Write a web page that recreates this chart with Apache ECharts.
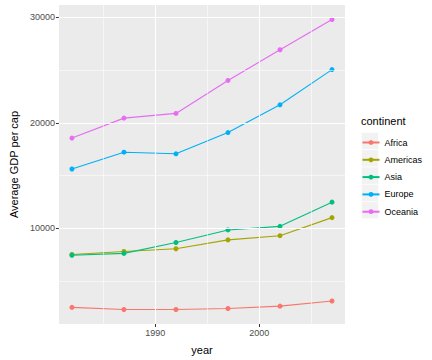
<!DOCTYPE html>
<html><head><meta charset="utf-8">
<script src="https://cdn.jsdelivr.net/npm/echarts@6/dist/echarts.min.js"></script>
<style>html,body{margin:0;padding:0;background:#fff}#c{width:432px;height:360px}</style>
</head><body><div id="c"></div>
<script>
const years = [1982, 1987, 1992, 1997, 2002, 2007];
const continents = ['Africa', 'Americas', 'Asia', 'Europe', 'Oceania'];
const africa   = [2481.6, 2282.7, 2281.8, 2378.8, 2599.4, 3089.0];
const americas = [7506.7, 7793.4, 8044.9, 8889.3, 9287.7, 11003.0];
const asia     = [7434.1, 7608.2, 8639.7, 9834.1, 10174.1, 12473.0];
const europe   = [15617.9, 17214.3, 17061.6, 19076.8, 21711.7, 25054.5];
const oceania  = [18554.7, 20448.0, 20894.0, 24024.2, 26938.8, 29810.2];
const xMajor = [1990, 2000];
const xMinor = [1985, 1995, 2005];
const yMajor = [10000, 20000, 30000];
const yMinor = [5000, 15000, 25000];
const colors = ['#F8766D', '#A3A500', '#00BF7D', '#00B0F6', '#E76BF3'];
const values = [africa, americas, asia, europe, oceania];

const font = 'Liberation Sans, Arial, sans-serif';
const chart = echarts.init(document.getElementById('c'), null, {renderer: 'svg'});

const grid = {left: 48, top: 5, width: 297, height: 323};

const gridLines = [];
xMinor.forEach(v => gridLines.push({xAxis: v, lineStyle: {color: '#fff', width: 0.55, type: 'solid'}}));
yMinor.forEach(v => gridLines.push({yAxis: v, lineStyle: {color: '#fff', width: 0.55, type: 'solid'}}));
xMajor.forEach(v => gridLines.push({xAxis: v, lineStyle: {color: '#fff', width: 1.1, type: 'solid'}}));
yMajor.forEach(v => gridLines.push({yAxis: v, lineStyle: {color: '#fff', width: 1.1, type: 'solid'}}));

const series = [{
  type: 'line', name: '_grid', data: [], silent: true, z: 1,
  markLine: {silent: true, symbol: ['none', 'none'], label: {show: false}, animation: false, data: gridLines}
}];
continents.forEach((c, i) => {
  series.push({
    type: 'line', name: c, z: 3,
    data: years.map((y, j) => [y, values[i][j]]),
    symbol: 'circle', symbolSize: 5, showSymbol: true,
    lineStyle: {color: colors[i], width: 1.1},
    itemStyle: {color: colors[i]},
    emphasis: {disabled: true}, animation: false
  });
});

const keyTop = 132.5, keyStep = 17.3, keySize = 17;
const keyRects = continents.map((c, i) => ({
  type: 'rect', silent: true, z: 0,
  shape: {x: 361.5, y: keyTop + i * keyStep, width: keySize, height: keySize},
  style: {fill: '#F2F2F2', stroke: '#fff', lineWidth: 0.5}
}));

const legends = continents.map((c, i) => ({
  data: [c], orient: 'vertical', left: 361.5, top: keyTop + i * keyStep + keySize / 2 - 3,
  itemWidth: 17, itemHeight: 6, itemGap: 0, padding: 0,
  textStyle: {fontFamily: font, fontSize: 9, color: '#000'},
  selectedMode: false
}));

chart.setOption({
  animation: false,
  color: colors,
  grid: Object.assign({show: true, backgroundColor: '#EBEBEB', borderWidth: 0}, grid),
  xAxis: {
    type: 'value', min: 1980.75, max: 2008.25,
    name: 'year', nameLocation: 'middle', nameGap: 20,
    nameTextStyle: {fontFamily: font, fontSize: 11, color: '#000'},
    axisLine: {show: false},
    axisTick: {show: true, length: 3, customValues: xMajor, lineStyle: {color: '#333', width: 1}},
    axisLabel: {customValues: xMajor, formatter: v => String(v), fontFamily: font, fontSize: 9, color: '#4D4D4D', margin: 4},
    splitLine: {show: false}
  },
  yAxis: {
    type: 'value', min: 905, max: 31186,
    name: 'Average GDP per cap', nameLocation: 'middle', nameGap: 37, nameRotate: 90,
    nameTextStyle: {fontFamily: font, fontSize: 11, color: '#000'},
    axisLine: {show: false},
    axisTick: {show: true, length: 3, customValues: yMajor, lineStyle: {color: '#333', width: 1}},
    axisLabel: {customValues: yMajor, formatter: v => String(v), fontFamily: font, fontSize: 9, color: '#4D4D4D', margin: 4},
    splitLine: {show: false}
  },
  legend: legends,
  title: {
    text: 'continent', left: 361, top: 115, padding: 0,
    textStyle: {fontFamily: font, fontSize: 11, fontWeight: 'normal', color: '#000'}
  },
  graphic: keyRects,
  series: series
});
</script></body></html>
